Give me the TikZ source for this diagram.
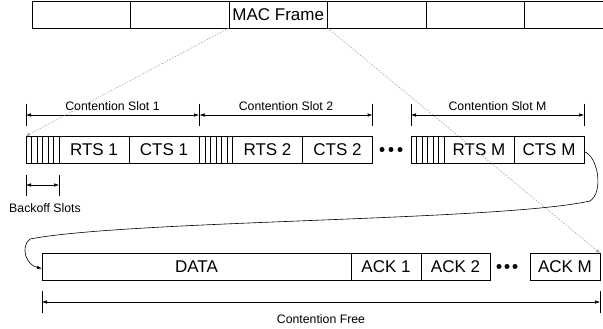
\documentclass[tikz,border=0pt]{standalone}
\usepackage{fontspec}
\setmainfont{Liberation Sans}
\usetikzlibrary{arrows.meta,positioning}

\begin{document}
\begin{tikzpicture}[x=1pt, y=-1pt]
  \tikzset{
    cell/.style={draw, line width=0.8pt, minimum height=27pt, inner sep=0pt,
      outer sep=0pt, anchor=west, font=\fontsize{17}{19}\selectfont},
    dim/.style={{Latex[length=5pt,width=3.5pt]}-{Latex[length=5pt,width=3.5pt]},
      line width=0.5pt},
    tick/.style={line width=0.7pt},
    lbl/.style={font=\fontsize{12.3}{14}\selectfont, inner sep=1.5pt},
    zoomline/.style={gray!80, dash pattern=on 1.5pt off 1.5pt, line width=0.5pt,
      -{Latex[length=4pt,width=3pt]}},
    curarr/.style={line width=0.6pt, -{Latex[length=5pt,width=3.5pt]}},
    dot/.style={circle, fill, inner sep=0pt, minimum size=5pt}
  }
  \useasboundingbox (0,0) rectangle (603,329);
  \clip (0,0) rectangle (603,329);

  % MAC frame
  \node[cell, minimum width=98.5pt] (f1) at (32,14.5) {};
  \node[cell, minimum width=98.5pt, right=0pt of f1] (f2) {};
  \node[cell, minimum width=98.5pt, right=0pt of f2] (f3) {MAC Frame};
  \node[cell, minimum width=98.5pt, right=0pt of f3] (f4) {};
  \node[cell, minimum width=98.5pt, right=0pt of f4] (f5) {};
  \node[cell, minimum width=98.5pt, right=0pt of f5] (f6) {};

  % contention slots
  \foreach \s/\x in {1/26, 2/199.5, M/411} {
    \node[cell, minimum width=33pt] (bo\s) at (\x,149.5) {};
    \foreach \k in {1,...,5}
      \draw[line width=0.6pt] ([xshift=\k*5.5pt]bo\s.north west) -- ([xshift=\k*5.5pt]bo\s.south west);
    \node[cell, minimum width=70pt, right=0pt of bo\s] (rts\s) {RTS \s};
    \node[cell, minimum width=70pt, right=0pt of rts\s] (cts\s) {CTS \s};
    \draw[tick] (bo\s.west |- 0,104) -- (bo\s.west |- 0,126);
    \draw[tick] (cts\s.east |- 0,104) -- (cts\s.east |- 0,126);
    \draw[dim] (bo\s.west |- 0,115) -- node[lbl, above=3pt] (sl\s) {Contention Slot \s} (cts\s.east |- 0,115);
  }
  \foreach \x [count=\c] in {382,391,400}
    \node[dot] (dotA\c) at (\x,149.5) {};

  % backoff slots
  \draw[tick] (bo1.west |- 0,175) -- (bo1.west |- 0,196);
  \draw[tick] (bo1.east |- 0,175) -- (bo1.east |- 0,196);
  \draw[dim] (bo1.west |- 0,185) -- (bo1.east |- 0,185);
  \node[lbl] (bolbl) at (45,208) {Backoff Slots};

  % contention free period
  \node[cell, minimum width=309pt] (data) at (42,266.5) {DATA};
  \node[cell, minimum width=70pt, right=0pt of data] (ack1) {ACK 1};
  \node[cell, minimum width=69pt, right=0pt of ack1] (ack2) {ACK 2};
  \foreach \x [count=\c] in {499,507,515}
    \node[dot] (dotB\c) at (\x,266.5) {};
  \node[cell, minimum width=70pt] (ackM) at (530,266.5) {ACK M};
  \draw[tick] (data.west |- 0,291) -- (data.west |- 0,313);
  \draw[tick] (ackM.east |- 0,291) -- (ackM.east |- 0,313);
  \draw[dim] (data.west |- 0,302) -- (ackM.east |- 0,302);
  \node[lbl] (cflbl) at (321,319) {Contention Free};

  % links
  \draw[zoomline] (f3.south west) -- (bo1.north west);
  \draw[zoomline] (f3.south east) -- (ackM.north east);
  \draw[curarr] ([yshift=-2pt]ctsM.east) .. controls (598,156) and (604,192) .. (590,201)
    .. controls (500,221) and (130,220) .. (30,239)
    .. controls (20,247) and (26,265) .. ([yshift=-2pt]data.west);
\end{tikzpicture}
\end{document}
